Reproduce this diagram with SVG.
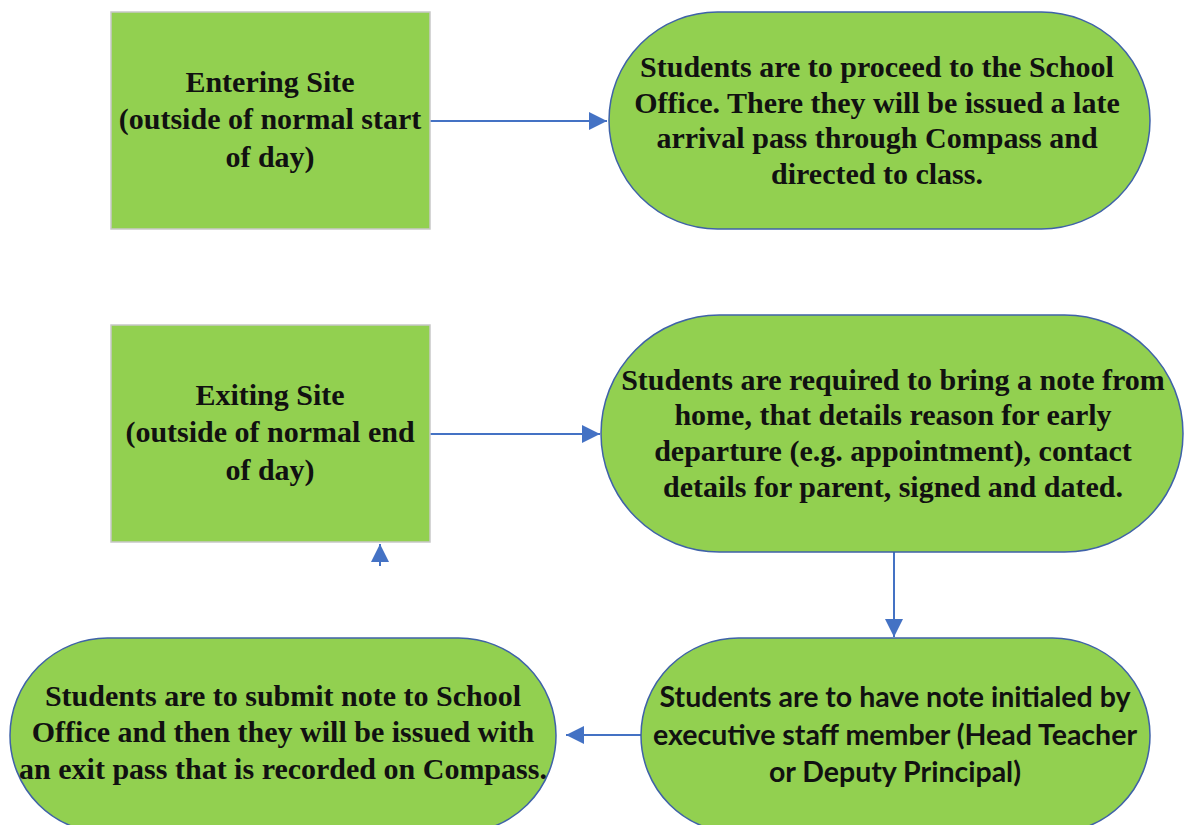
<svg xmlns="http://www.w3.org/2000/svg" width="1184" height="825" viewBox="0 0 1184 825">
<style>
.box{fill:#92D050;stroke:#c8c8c8;stroke-width:1.5}
.pill{fill:#92D050;stroke:#3F62A8;stroke-width:1.5}
.t{font-family:"Liberation Serif",serif;font-weight:bold;font-size:30px;fill:#111;text-anchor:middle}
.s{font-family:Lato,"Liberation Sans",sans-serif;font-weight:bold;font-size:28.5px;fill:#111;text-anchor:middle}
.c{stroke:#4472C4;stroke-width:2;fill:none}
</style>
<defs>
<marker id="ah2" viewBox="0 0 10 10" refX="10" refY="5" markerWidth="18" markerHeight="18" markerUnits="userSpaceOnUse" orient="auto"><path d="M0,0L10,5L0,10z" fill="#4472C4"/></marker>
</defs>
<g id="connectors">
<line class="c" x1="430" y1="121" x2="607" y2="121" marker-end="url(#ah2)"/>
<line class="c" x1="430" y1="434" x2="600" y2="434" marker-end="url(#ah2)"/>
<line class="c" x1="894" y1="552" x2="894" y2="637" marker-end="url(#ah2)"/>
<line class="c" x1="641" y1="735" x2="566" y2="735" marker-end="url(#ah2)"/>
<line class="c" x1="380" y1="566" x2="380" y2="544" marker-end="url(#ah2)"/>
</g>
<g id="entering">
<rect class="box" x="111" y="12" width="319" height="217"/>
<text class="t" x="270" y="92">Entering Site</text>
<text class="t" x="270" y="129">(outside of normal start</text>
<text class="t" x="270" y="167">of day)</text>
</g>
<g id="late-pass">
<rect class="pill" x="609" y="12" width="541" height="217" rx="108.5" ry="108.5"/>
<text class="t" x="877" y="77">Students are to proceed to the School</text>
<text class="t" x="877" y="113">Office. There they will be issued a late</text>
<text class="t" x="877" y="148">arrival pass through Compass and</text>
<text class="t" x="877" y="184">directed to class.</text>
</g>
<g id="exiting">
<rect class="box" x="111" y="325" width="319" height="217"/>
<text class="t" x="270" y="405">Exiting Site</text>
<text class="t" x="270" y="442">(outside of normal end</text>
<text class="t" x="270" y="480">of day)</text>
</g>
<g id="note">
<rect class="pill" x="601" y="315" width="582" height="237" rx="118.5" ry="118.5"/>
<text class="t" x="893" y="390">Students are required to bring a note from</text>
<text class="t" x="893" y="425">home, that details reason for early</text>
<text class="t" x="893" y="461">departure (e.g. appointment), contact</text>
<text class="t" x="893" y="497">details for parent, signed and dated.</text>
</g>
<g id="initialed">
<rect class="pill" x="641" y="638" width="509" height="195" rx="97.5" ry="97.5"/>
<text class="s" x="895" y="707">Students are to have note initialed by</text>
<text class="s" x="895" y="745">executive staff member (Head Teacher</text>
<text class="s" x="895" y="782">or Deputy Principal)</text>
</g>
<g id="exit-pass">
<rect class="pill" x="10" y="638" width="546" height="195" rx="97.5" ry="97.5"/>
<text class="t" x="283" y="706">Students are to submit note to School</text>
<text class="t" x="283" y="742">Office and then they will be issued with</text>
<text class="t" x="283" y="779">an exit pass that is recorded on Compass.</text>
</g>
</svg>
